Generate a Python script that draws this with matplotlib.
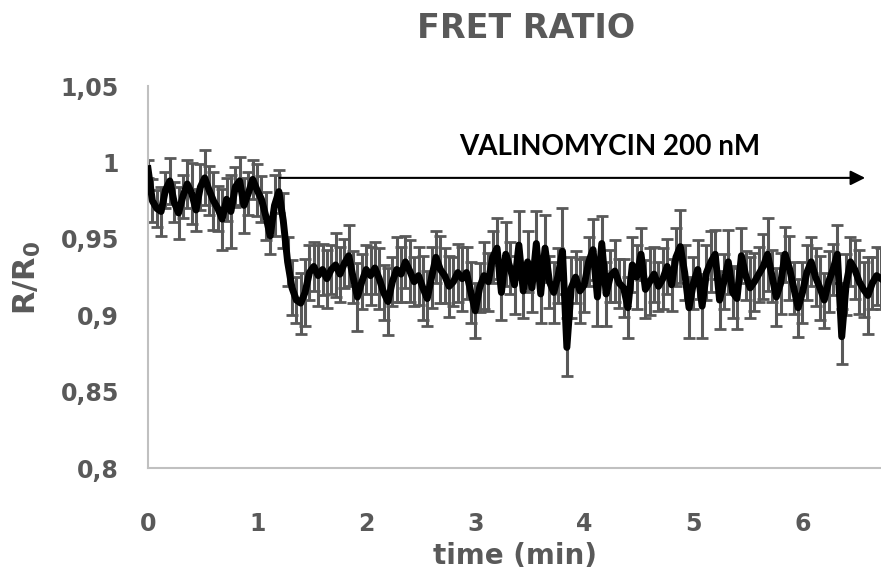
import numpy as np
import matplotlib.pyplot as plt

# FRET ratio trace, sampled every 0.04 min
dt = 0.04
ratio = [
    0.996, 0.975, 0.970, 0.968, 0.982, 0.988, 0.974, 0.967, 0.978, 0.986,
    0.980, 0.969, 0.984, 0.990, 0.982, 0.975, 0.970, 0.963, 0.976, 0.968,
    0.984, 0.988, 0.972, 0.980, 0.989, 0.982, 0.976, 0.965, 0.952, 0.972,
    0.981, 0.962, 0.935, 0.918, 0.910, 0.908, 0.915, 0.928, 0.932, 0.926,
    0.930, 0.924, 0.930, 0.933, 0.927, 0.934, 0.939, 0.925, 0.912, 0.922,
    0.930, 0.926, 0.931, 0.924, 0.915, 0.909, 0.922, 0.930, 0.927, 0.935,
    0.929, 0.922, 0.926, 0.918, 0.911, 0.925, 0.938, 0.930, 0.926, 0.919,
    0.922, 0.928, 0.924, 0.928, 0.915, 0.903, 0.918, 0.926, 0.922, 0.938,
    0.944, 0.915, 0.940, 0.931, 0.920, 0.946, 0.916, 0.935, 0.918, 0.947,
    0.914, 0.944, 0.922, 0.915, 0.926, 0.942, 0.879, 0.918, 0.925, 0.916,
    0.920, 0.935, 0.943, 0.912, 0.947, 0.914, 0.926, 0.929, 0.921, 0.918,
    0.905, 0.933, 0.925, 0.940, 0.917, 0.922, 0.927, 0.919, 0.924, 0.932,
    0.920, 0.938, 0.945, 0.928, 0.905, 0.921, 0.930, 0.906, 0.928, 0.935,
    0.940, 0.910, 0.922, 0.935, 0.915, 0.911, 0.939, 0.926, 0.918, 0.922,
    0.927, 0.932, 0.940, 0.926, 0.912, 0.921, 0.940, 0.931, 0.918, 0.905,
    0.915, 0.928, 0.935, 0.925, 0.918, 0.910, 0.922, 0.930, 0.940, 0.886,
    0.920, 0.935, 0.930, 0.922, 0.917, 0.913, 0.921, 0.926, 0.924,
]
err = [
    0.006, 0.014, 0.012, 0.016, 0.012, 0.015, 0.013, 0.017, 0.014, 0.016,
    0.020, 0.014, 0.015, 0.018, 0.016, 0.019, 0.015, 0.020, 0.014, 0.024,
    0.013, 0.016, 0.018, 0.014, 0.013, 0.017, 0.015, 0.016, 0.012, 0.020,
    0.014, 0.018, 0.016, 0.018, 0.015, 0.020, 0.022, 0.018, 0.016, 0.020,
    0.017, 0.019, 0.016, 0.021, 0.018, 0.016, 0.020, 0.017, 0.022, 0.018,
    0.016, 0.019, 0.017, 0.020, 0.018, 0.022, 0.016, 0.021, 0.018, 0.017,
    0.020, 0.016, 0.019, 0.021, 0.018, 0.020, 0.017, 0.022, 0.018, 0.020,
    0.016, 0.019, 0.021, 0.017, 0.020, 0.018, 0.016, 0.022, 0.019, 0.017,
    0.020, 0.018, 0.021, 0.017, 0.019, 0.022, 0.018, 0.020, 0.016, 0.021,
    0.019, 0.022, 0.017, 0.020, 0.018, 0.028, 0.019, 0.020, 0.017, 0.021,
    0.018, 0.016, 0.020, 0.019, 0.018, 0.021, 0.017, 0.020, 0.016, 0.019,
    0.020, 0.018, 0.021, 0.017, 0.019, 0.022, 0.018, 0.016, 0.020, 0.018,
    0.017, 0.019, 0.024, 0.018, 0.020, 0.017, 0.019, 0.021, 0.018, 0.020,
    0.016, 0.019, 0.018, 0.021, 0.017, 0.020, 0.018, 0.016, 0.020, 0.019,
    0.018, 0.021, 0.024, 0.017, 0.019, 0.020, 0.018, 0.021, 0.017, 0.019,
    0.020, 0.018, 0.016, 0.019, 0.021, 0.018, 0.020, 0.017, 0.019, 0.018,
    0.020, 0.016, 0.019, 0.021, 0.018, 0.025, 0.017, 0.019, 0.020,
]
time = np.arange(len(ratio)) * dt

x_ticks = [0, 1, 2, 3, 4, 5, 6]
y_ticks = [0.8, 0.85, 0.9, 0.95, 1.0, 1.05]
y_labels = ['0,8', '0,85', '0,9', '0,95', '1', '1,05']

arrow_start, arrow_end, arrow_y = 1.18, 6.60, 0.990
label_x, label_y = 4.23, 1.010

gray = '#595959'
plt.rcParams['font.family'] = ['DejaVu Sans']

fig = plt.figure(figsize=(8.81, 5.75), dpi=100)
ax = fig.add_axes([0.168, 0.186, 0.832, 0.664])

ax.errorbar(time, ratio, yerr=err, fmt='none', ecolor=gray, elinewidth=2.2,
            capsize=4.5, capthick=2.0, zorder=2)
ax.plot(time, ratio, color='black', lw=5, zorder=3)

ax.annotate('', xy=(arrow_end, arrow_y), xytext=(arrow_start, arrow_y),
            arrowprops=dict(arrowstyle='-|>', color='black', lw=1.5, mutation_scale=22))
ax.text(label_x, label_y, 'VALINOMYCIN 200 nM', ha='center', va='center',
        fontsize=20, family='Lato', fontweight='bold')

ax.set_xlim(0, 6.72)
ax.set_ylim(0.8, 1.05)
ax.set_xticks(x_ticks)
ax.set_yticks(y_ticks)
ax.set_yticklabels(y_labels)
ax.tick_params(length=0, labelsize=17, labelcolor=gray)
ax.tick_params(axis='x', pad=32)
ax.tick_params(axis='y', pad=21)
for lab in ax.get_xticklabels() + ax.get_yticklabels():
    lab.set_fontweight('bold')

for s in ['top', 'right']:
    ax.spines[s].set_visible(False)
for s in ['left', 'bottom']:
    ax.spines[s].set_color('#c0c0c0')
    ax.spines[s].set_linewidth(1.5)

ax.set_xlabel('time (min)', fontsize=20, fontweight='bold', color=gray, va='center')
ax.xaxis.set_label_coords(0.5, -0.23)
ax.set_ylabel('R/R$_\\mathbf{0}$', fontsize=22, fontweight='bold', color=gray, va='center')
ax.yaxis.set_label_coords(-0.165, 0.497)
fig.text(0.597, 0.951, 'FRET RATIO', ha='center', va='center', fontsize=24,
         fontweight='bold', color=gray)

fig.savefig('out.png', dpi=100)
